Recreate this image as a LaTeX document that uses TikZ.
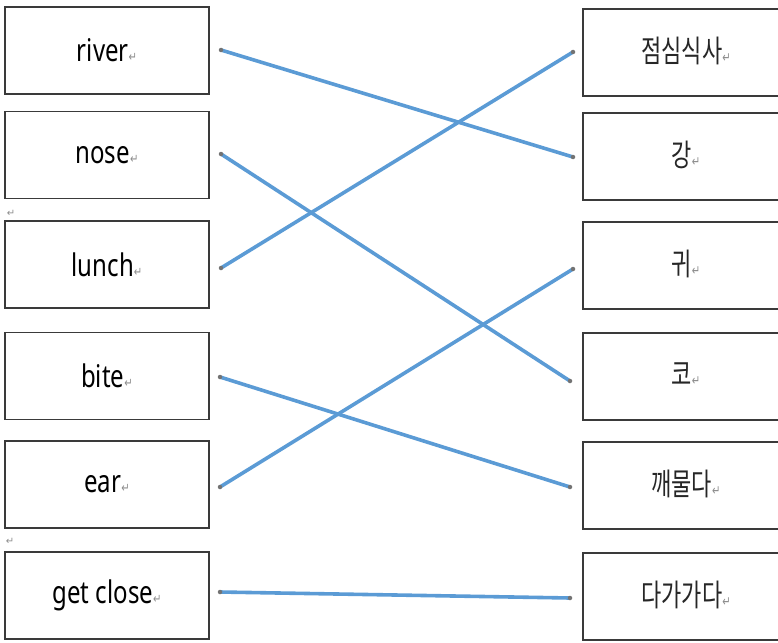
\documentclass[tikz,border=0pt]{standalone}
\usepackage{fontspec}
\usepackage{graphicx}
\setmainfont{Noto Sans CJK KR}
\newfontfamily\latinfont{Noto Sans}
\newfontfamily\markfont{DejaVu Sans}
\definecolor{linkblue}{HTML}{5B9BD5}
\definecolor{boxline}{HTML}{3A3A3A}
\newcommand{\pmark}{{\markfont\fontsize{10}{10}\selectfont\color{black!45}↵}}
\newcommand{\lbl}[1]{\scalebox{1}[1.4]{\fontsize{22}{24}\selectfont\color{black!85}#1\pmark}}
\newcommand{\elbl}[1]{\scalebox{1}[1.3]{\latinfont\fontsize{24}{26}\selectfont #1\pmark}}
\begin{document}
\begin{tikzpicture}[x=1pt,y=-1pt,
  box/.style={draw=boxline,line width=1.3pt,rectangle,inner sep=0pt,minimum width=204pt,minimum height=87pt},
  rbox/.style={box,minimum width=220pt},
  link/.style={draw=linkblue,line width=3.6pt,line cap=round},
  enddot/.style={fill=black!55,circle,inner sep=0pt,minimum size=4.5pt}]
\useasboundingbox (0,0) rectangle (778,642);
\clip (0,0) rectangle (778,642);
% left boxes
\node[box] (river) at (107,50.5) {\elbl{river}};
\node[box] (nose) at (107,155) {\elbl{nose}};
\node[box] (lunch) at (107,264.5) {\elbl{lunch}};
\node[box] (bite) at (107,376) {\elbl{bite}};
\node[box] (ear) at (107,484.5) {\elbl{ear}};
\node[box] (getclose) at (107,595.5) {\elbl{get close}};
% right boxes
\node[rbox] (jeomsim) at (693,52.5) {};
\node[rbox] (gang) at (693,156.5) {};
\node[rbox] (gwi) at (693,265.5) {};
\node[rbox] (ko) at (693,376.5) {};
\node[rbox] (kkae) at (693,485.5) {};
\node[rbox] (daga) at (693,596.5) {};
\node (tjeomsim) at (686,50.5) {\lbl{점심식사}};
\node (tgang) at (686,154.5) {\lbl{강}};
\node (tgwi) at (686,263.5) {\lbl{귀}};
\node (tko) at (686,374.5) {\lbl{코}};
\node (tkae) at (686,483.5) {\lbl{깨물다}};
\node (tdaga) at (686,594.5) {\lbl{다가가다}};
% stray paragraph marks
\node[inner sep=0pt] (pm1) at (11,213) {\pmark};
\node[inner sep=0pt] (pm2) at (10,541) {\pmark};
% endpoints
\coordinate (Lriver) at (221,50);
\coordinate (Lnose) at (221,154);
\coordinate (Llunch) at (221,268);
\coordinate (Lbite) at (220,377);
\coordinate (Lear) at (220,487);
\coordinate (Lget) at (220,592);
\coordinate (Rjeomsim) at (573,52);
\coordinate (Rgang) at (573,157);
\coordinate (Rgwi) at (573,269);
\coordinate (Rko) at (570,381);
\coordinate (Rkae) at (570,487);
\coordinate (Rdaga) at (570,598);
\draw[link] (Lriver) -- (Rgang);
\draw[link] (Lnose) -- (Rko);
\draw[link] (Llunch) -- (Rjeomsim);
\draw[link] (Lbite) -- (Rkae);
\draw[link] (Lear) -- (Rgwi);
\draw[link] (Lget) -- (Rdaga);
\foreach \p in {Lriver,Lnose,Llunch,Lbite,Lear,Lget,Rjeomsim,Rgang,Rgwi,Rko,Rkae,Rdaga}
  \node[enddot] at (\p) {};
\end{tikzpicture}
\end{document}
